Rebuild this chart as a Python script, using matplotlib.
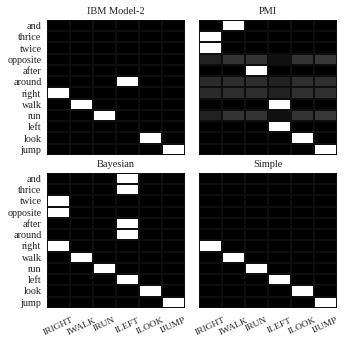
import numpy as np
import matplotlib
matplotlib.use("Agg")
import matplotlib.pyplot as plt

plt.rcParams['font.family'] = ['Liberation Serif', 'DejaVu Serif']

# row / column labels
words = ["and", "thrice", "twice", "opposite", "after", "around",
         "right", "walk", "run", "left", "look", "jump"]
actions = ["IRIGHT", "IWALK", "IRUN", "ILEFT", "ILOOK", "IJUMP"]

# alignment scores (0 = black, 1 = white)
ibm = [
    [0, 0, 0, 0, 0, 0],
    [0, 0, 0, 0, 0, 0],
    [0, 0, 0, 0, 0, 0],
    [0, 0, 0, 0, 0, 0],
    [0, 0, 0, 0, 0, 0],
    [0, 0, 0, 1, 0, 0],
    [1, 0, 0, 0, 0, 0],
    [0, 1, 0, 0, 0, 0],
    [0, 0, 1, 0, 0, 0],
    [0, 0, 0, 0, 0, 0],
    [0, 0, 0, 0, 1, 0],
    [0, 0, 0, 0, 0, 1],
]
pmi = [
    [0, 1, 0, 0, 0, 0],
    [1, 0, 0, 0, 0, 0],
    [1, 0, 0, 0, 0, 0],
    [0.13, 0.2, 0.2, 0.07, 0.2, 0.22],
    [0, 0, 1, 0, 0, 0],
    [0.17, 0.18, 0.18, 0.13, 0.19, 0.19],
    [0.17, 0.18, 0.18, 0.13, 0.19, 0.19],
    [0, 0, 0, 1, 0, 0],
    [0.13, 0.2, 0.2, 0.07, 0.2, 0.22],
    [0, 0, 0, 1, 0, 0],
    [0, 0, 0, 0, 1, 0],
    [0, 0, 0, 0, 0, 1],
]
bayes = [
    [0, 0, 0, 1, 0, 0],
    [0, 0, 0, 1, 0, 0],
    [1, 0, 0, 0, 0, 0],
    [1, 0, 0, 0, 0, 0],
    [0, 0, 0, 1, 0, 0],
    [0, 0, 0, 1, 0, 0],
    [1, 0, 0, 0, 0, 0],
    [0, 1, 0, 0, 0, 0],
    [0, 0, 1, 0, 0, 0],
    [0, 0, 0, 1, 0, 0],
    [0, 0, 0, 0, 1, 0],
    [0, 0, 0, 0, 0, 1],
]
simple = [
    [0, 0, 0, 0, 0, 0],
    [0, 0, 0, 0, 0, 0],
    [0, 0, 0, 0, 0, 0],
    [0, 0, 0, 0, 0, 0],
    [0, 0, 0, 0, 0, 0],
    [0, 0, 0, 0, 0, 0],
    [1, 0, 0, 0, 0, 0],
    [0, 1, 0, 0, 0, 0],
    [0, 0, 1, 0, 0, 0],
    [0, 0, 0, 1, 0, 0],
    [0, 0, 0, 0, 1, 0],
    [0, 0, 0, 0, 0, 1],
]

titles = ["IBM Model-2", "PMI", "Bayesian", "Simple"]
mats = [ibm, pmi, bayes, simple]

fig = plt.figure(figsize=(3.49, 3.49), dpi=100)

# panel positions (left, bottom) in figure fraction
pos = [(0.135, 0.556), (0.570, 0.556), (0.135, 0.118), (0.570, 0.118)]
w, h = 0.395, 0.387

for i in range(4):
    ax = fig.add_axes([pos[i][0], pos[i][1], w, h])
    m = np.array(mats[i], dtype=float)
    ax.pcolormesh(m, cmap='gray', vmin=0, vmax=1,
                  edgecolors='#0e0e0e', linewidth=0.2)
    ax.set_xlim(0, len(actions))
    ax.set_ylim(len(words), 0)
    ax.set_title(titles[i], fontsize=7.5, pad=4, color='#222222')
    for s in ax.spines.values():
        s.set_visible(False)
    ax.tick_params(length=0, pad=4, labelsize=7.3, labelcolor='#222222')
    ax.set_yticks(np.arange(len(words)) + 0.5)
    if i % 2 == 0:
        ax.set_yticklabels(words)
    else:
        ax.set_yticklabels([])
    ax.set_xticks(np.arange(len(actions)) + 0.5)
    if i >= 2:
        ax.set_xticklabels(actions, rotation=25, ha='center', fontsize=6.8)
        ax.tick_params(axis='x', pad=6)
    else:
        ax.set_xticklabels([])

fig.savefig("out.png", dpi=100)
